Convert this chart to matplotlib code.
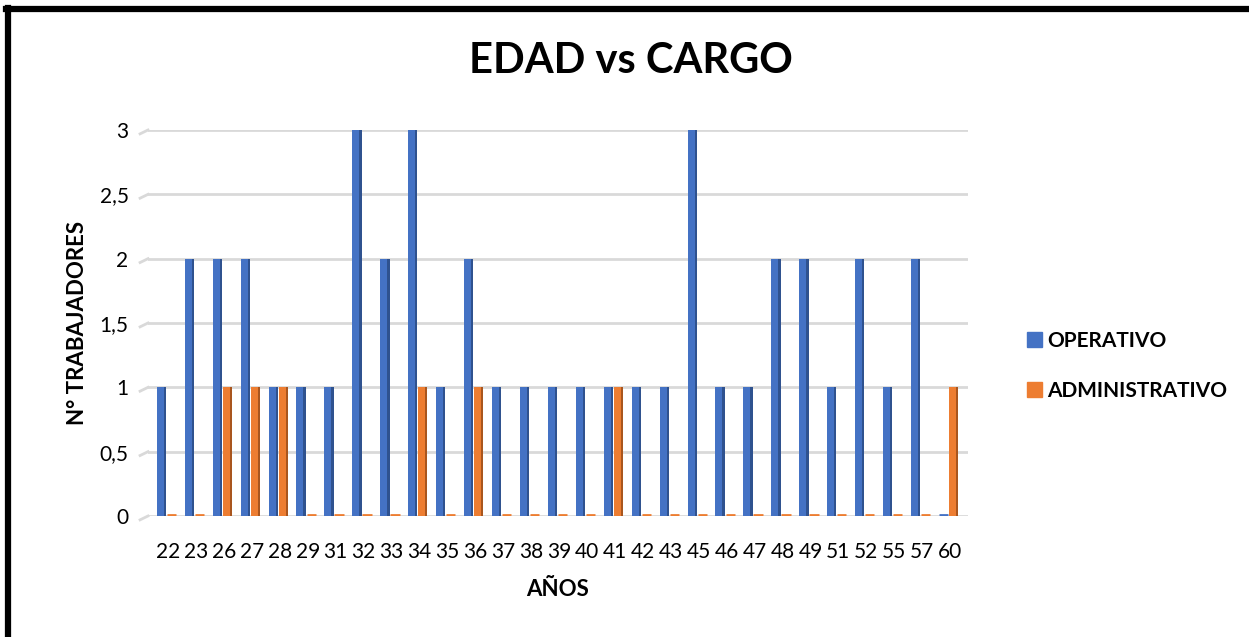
import numpy as np
import matplotlib
matplotlib.use("Agg")
import matplotlib.pyplot as plt
from matplotlib.lines import Line2D
from matplotlib.patches import Patch

# data
edades = ["22", "23", "26", "27", "28", "29", "31", "32", "33", "34", "35", "36", "37", "38", "39",
          "40", "41", "42", "43", "45", "46", "47", "48", "49", "51", "52", "55", "57", "60"]
operativo = [1, 2, 2, 2, 1, 1, 1, 3, 2, 3, 1, 2, 1, 1, 1,
             1, 1, 1, 1, 3, 1, 1, 2, 2, 1, 2, 1, 2, 0]
administrativo = [0, 0, 1, 1, 1, 0, 0, 0, 0, 1, 0, 1, 0, 0, 0,
                  0, 1, 0, 0, 0, 0, 0, 0, 0, 0, 0, 0, 0, 1]
yticks = [0, 0.5, 1, 1.5, 2, 2.5, 3]
ytick_labels = ["0", "0,5", "1", "1,5", "2", "2,5", "3"]

plt.rcParams['font.family'] = ['Lato', 'DejaVu Sans']

fig = plt.figure(figsize=(12.49, 6.37), dpi=100)
ax = fig.add_axes([148 / 1249, 121 / 637, 820 / 1249, 386 / 637])

x = np.arange(len(edades))
face_w = 0.25
side_w = 0.08

series = [
    (operativo, -0.40, "#4472C4", "#2F528F", "OPERATIVO"),
    (administrativo, -0.04, "#ED7D31", "#A9561E", "ADMINISTRATIVO"),
]
for vals, off, col, dark, name in series:
    vals = np.array(vals, dtype=float)
    # front face
    ax.bar(x + off, vals, width=face_w, color=col, align="edge", zorder=3)
    # darker side for the 3D look
    ax.bar(x + off + face_w, vals, width=side_w, color=dark, align="edge", zorder=3)
    # flat base visible for zero bars
    zero = vals == 0
    ax.hlines(np.zeros(zero.sum()) + 0.008, x[zero] + off, x[zero] + off + face_w + side_w,
              color=col, lw=2, zorder=3)

ax.set_xlim(-0.716, 28.64)
ax.set_ylim(0, 3)
ax.set_yticks(yticks)
ax.set_yticklabels(ytick_labels)
ax.set_xticks(x)
ax.set_xticklabels(edades)
ax.tick_params(axis="both", length=0, labelsize=15)
ax.tick_params(axis="y", pad=14)
ax.tick_params(axis="x", pad=19)
ax.yaxis.grid(True, color="#d9d9d9", lw=2, zorder=0)
ax.set_axisbelow(True)
for s in ax.spines.values():
    s.set_visible(False)

# little slanted stubs at the left of gridlines (3D floor/wall)
for yv in yticks:
    ax.plot([-0.716, -1.0], [yv, yv - 0.03], color="#d9d9d9", lw=2, clip_on=False, zorder=0)

ax.set_xlabel("AÑOS", fontsize=16, fontweight="bold", labelpad=12)
ax.set_ylabel("N° TRABAJADORES", fontsize=16, fontweight="bold", labelpad=8)

fig.text(0.505, 0.905, "EDAD vs CARGO", ha="center", va="center", fontsize=30, fontweight="bold")

handles = [Patch(color="#4472C4"), Patch(color="#ED7D31")]
fig.legend(handles, ["OPERATIVO", "ADMINISTRATIVO"], loc="center left",
           bbox_to_anchor=(1008 / 1249, 1 - 366 / 637), frameon=False,
           prop={"size": 15, "weight": "bold"}, handlelength=0.75, handleheight=0.75,
           handletextpad=0.25, labelspacing=1.45)

# black frame, only left and top edges visible in the crop
fig.add_artist(Line2D([8 / 1249, 8 / 1249], [0, 1 - 8 / 637], transform=fig.transFigure,
                      color="black", lw=4.5))
fig.add_artist(Line2D([6 / 1249, 1], [1 - 9 / 637, 1 - 9 / 637], transform=fig.transFigure,
                      color="black", lw=4.5))

fig.savefig("out.png", dpi=100, facecolor="white")
